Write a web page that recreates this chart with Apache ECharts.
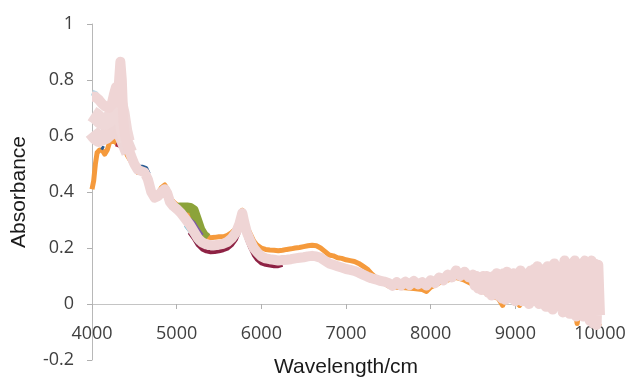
<!DOCTYPE html>
<html>
<head>
<meta charset="utf-8">
<title>Absorbance</title>
<script src="https://cdn.jsdelivr.net/npm/echarts@6/dist/echarts.min.js"></script>
<style>
    html, body { margin: 0; padding: 0; background: #fff; }
    #lineChart { width: 629px; height: 379px; }
</style>
</head>
<body>
<div id="lineChart"></div>
<script>
// x刻度
var xTicks = [4000, 5000, 6000, 7000, 8000, 9000, 10000];
var yTicks = [-0.2, 0, 0.2, 0.4, 0.6, 0.8, 1];

// 主谱线（粉色）
var mainSpectrum = [
    [4000, 0.74], [4040, 0.74], [4080, 0.73], [4120, 0.715], [4160, 0.705], [4200, 0.70], [4230, 0.71],
    [4260, 0.75], [4283, 0.775], [4300, 0.72], [4318, 0.79], [4335, 0.865], [4352, 0.80], [4370, 0.66],
    [4390, 0.60], [4420, 0.565], [4460, 0.53], [4500, 0.50], [4540, 0.48], [4580, 0.475], [4620, 0.47],
    [4660, 0.445], [4700, 0.40], [4740, 0.38], [4780, 0.385], [4820, 0.40], [4860, 0.41], [4890, 0.395],
    [4920, 0.365], [4960, 0.35], [5000, 0.34], [5050, 0.325], [5100, 0.305], [5150, 0.285], [5200, 0.26],
    [5250, 0.235], [5300, 0.22], [5350, 0.213], [5400, 0.21], [5450, 0.21], [5500, 0.212], [5550, 0.215],
    [5600, 0.222], [5650, 0.235], [5700, 0.255], [5740, 0.285], [5775, 0.325], [5800, 0.29], [5830, 0.255],
    [5870, 0.225], [5910, 0.20], [5950, 0.185], [6000, 0.17], [6050, 0.163], [6100, 0.16], [6150, 0.158],
    [6200, 0.155], [6250, 0.157], [6300, 0.158], [6350, 0.16], [6400, 0.163], [6450, 0.165], [6500, 0.167],
    [6550, 0.17], [6600, 0.172], [6650, 0.17], [6700, 0.165], [6750, 0.155], [6800, 0.145], [6850, 0.14],
    [6900, 0.135], [6950, 0.13], [7000, 0.125], [7050, 0.122], [7100, 0.118], [7150, 0.112], [7200, 0.105],
    [7250, 0.098], [7300, 0.092], [7350, 0.088], [7400, 0.083], [7450, 0.08], [7500, 0.075],
    [7550, 0.065], [7600, 0.078], [7650, 0.066], [7700, 0.08], [7750, 0.068], [7800, 0.082], [7850, 0.07],
    [7900, 0.078], [7950, 0.066], [8000, 0.085], [8050, 0.074], [8100, 0.095], [8150, 0.084], [8200, 0.105],
    [8250, 0.095], [8300, 0.12], [8350, 0.10], [8400, 0.115], [8450, 0.095], [8500, 0.105],
    [8520, 0.065], [8540, 0.10], [8560, 0.055], [8580, 0.095], [8600, 0.05], [8620, 0.10], [8640, 0.05],
    [8660, 0.10], [8680, 0.04], [8700, 0.095], [8720, 0.03], [8740, 0.10], [8760, 0.04], [8780, 0.11],
    [8800, 0.03], [8820, 0.095], [8840, 0.02], [8860, 0.11], [8880, 0.015], [8900, 0.115], [8920, 0.03],
    [8940, 0.10], [8960, 0.02], [8980, 0.11], [9000, 0.01], [9020, 0.10], [9040, 0.03], [9060, 0.12],
    [9080, 0.01], [9100, 0.11], [9120, 0.02], [9140, 0.10], [9160, 0.0], [9180, 0.12], [9200, 0.01],
    [9220, 0.125], [9240, 0.02], [9260, 0.135], [9280, 0.0], [9300, 0.11], [9320, 0.01], [9340, 0.125],
    [9360, -0.01], [9380, 0.135], [9400, 0.0], [9420, 0.12], [9440, -0.02], [9460, 0.145], [9480, 0.01],
    [9500, 0.135], [9520, -0.01], [9540, 0.13], [9560, -0.03], [9580, 0.155], [9600, 0.0], [9620, 0.145],
    [9640, -0.035], [9660, 0.14], [9680, -0.01], [9700, 0.155], [9720, -0.045], [9740, 0.145],
    [9760, -0.02], [9780, 0.14], [9800, -0.045], [9820, 0.155], [9840, -0.03], [9860, 0.145],
    [9880, -0.06], [9900, 0.155], [9920, -0.07], [9940, 0.145], [9960, -0.075], [9980, 0.14], [10000, -0.04]
];
// 左侧粉色填充
var pinkMid = [
    [4000, 0.68], [4050, 0.67], [4100, 0.655], [4150, 0.65], [4200, 0.66], [4250, 0.68], [4290, 0.70],
    [4320, 0.72], [4350, 0.68], [4380, 0.62], [4410, 0.58]
];
var pinkLow = [
    [4000, 0.615], [4040, 0.60], [4080, 0.59], [4120, 0.595], [4160, 0.60], [4200, 0.61], [4240, 0.62],
    [4280, 0.63], [4320, 0.62], [4360, 0.60], [4400, 0.57], [4440, 0.54]
];
var orange = [
    [4000, 0.41], [4020, 0.44], [4040, 0.50], [4060, 0.54], [4090, 0.55], [4120, 0.55], [4150, 0.535],
    [4180, 0.55], [4210, 0.58], [4250, 0.585], [4290, 0.575], [4330, 0.57], [4360, 0.56], [4390, 0.55],
    [4420, 0.53], [4460, 0.51], [4500, 0.49], [4540, 0.47], [4580, 0.47], [4620, 0.465], [4660, 0.44],
    [4700, 0.405], [4740, 0.385], [4780, 0.395], [4820, 0.415], [4860, 0.425], [4890, 0.41], [4920, 0.38],
    [4960, 0.365], [5000, 0.355], [5050, 0.345], [5100, 0.33], [5150, 0.31], [5200, 0.29], [5250, 0.265],
    [5300, 0.25], [5350, 0.24], [5400, 0.237], [5450, 0.238], [5500, 0.24], [5550, 0.24], [5600, 0.245],
    [5650, 0.255], [5700, 0.27], [5740, 0.295], [5775, 0.335], [5800, 0.305], [5830, 0.275], [5870, 0.25],
    [5910, 0.225], [5950, 0.21], [6000, 0.20], [6050, 0.195], [6100, 0.193], [6150, 0.192], [6200, 0.19],
    [6250, 0.192], [6300, 0.195], [6350, 0.197], [6400, 0.20], [6450, 0.202], [6500, 0.205], [6550, 0.208],
    [6600, 0.21], [6650, 0.208], [6700, 0.20], [6750, 0.188], [6800, 0.175], [6850, 0.172], [6900, 0.165],
    [6950, 0.163], [7000, 0.158], [7050, 0.155], [7100, 0.152], [7150, 0.145], [7200, 0.135], [7250, 0.125],
    [7300, 0.108], [7350, 0.095], [7400, 0.085], [7450, 0.075], [7500, 0.065], [7600, 0.06], [7700, 0.058],
    [7800, 0.055], [7900, 0.052], [7950, 0.045], [8000, 0.06], [8100, 0.075], [8200, 0.085], [8300, 0.095],
    [8400, 0.085], [8500, 0.07], [8600, 0.05], [8700, 0.03], [8800, 0.02], [8850, -0.005], [8900, 0.03],
    [9000, 0.01], [9050, -0.005], [9100, 0.03], [9200, 0.0], [9300, 0.02], [9400, 0.01], [9450, -0.02],
    [9500, 0.02], [9550, 0.0], [9600, 0.01], [9650, -0.04], [9700, -0.01], [9730, -0.07], [9760, 0.0],
    [9800, 0.02], [9850, 0.0], [9900, -0.05], [9950, -0.06], [10000, -0.08]
];
var green = [
    [5000, 0.335], [5040, 0.345], [5080, 0.345], [5120, 0.345], [5160, 0.343], [5200, 0.335], [5240, 0.30],
    [5280, 0.265], [5320, 0.245], [5360, 0.235]
];
var purple = [
    [5020, 0.325], [5080, 0.315], [5140, 0.305], [5200, 0.29], [5250, 0.265], [5300, 0.245]
];
var darkRed = [
    [5150, 0.255], [5200, 0.235], [5250, 0.21], [5300, 0.195], [5350, 0.188], [5400, 0.185], [5450, 0.186],
    [5500, 0.188], [5550, 0.192], [5600, 0.198], [5650, 0.21], [5700, 0.23], [5740, 0.26], [5775, 0.30],
    [5800, 0.265], [5830, 0.23], [5870, 0.20], [5910, 0.175], [5950, 0.158], [6000, 0.145], [6050, 0.14],
    [6100, 0.137], [6150, 0.135], [6200, 0.135], [6250, 0.14]
];
var darkRedLeft = [[4280, 0.57], [4330, 0.565]];
var cyan = [[5100, 0.28], [5150, 0.26], [5200, 0.238], [5250, 0.215]];
var lightBlue = [
    [4000, 0.755], [4040, 0.75], [4080, 0.735], [4120, 0.72], [4160, 0.71], [4200, 0.705], [4240, 0.72],
    [4280, 0.765]
];
var darkBlue = [[4520, 0.485], [4560, 0.49], [4600, 0.49], [4640, 0.485], [4670, 0.465]];
var darkBlueLeft = [[4110, 0.56], [4140, 0.555]];

(function () {
    var dom = document.getElementById("lineChart");
    var myChart = echarts.init(dom);

    function line(data, color, width) {
        return {
            type: 'line',
            data: data,
            showSymbol: false,
            smooth: false,
            lineStyle: { color: color, width: width, join: 'round', cap: 'butt' }
        };
    }

    var option = {
        animation: false,
        backgroundColor: '#ffffff',
        grid: {
            left: 92,
            right: 29,
            top: 24,
            bottom: 19,
            outerBounds: { left: -300, right: -300, top: -300, bottom: -300 }
        },
        xAxis: {
            type: 'value',
            min: xTicks[0],
            max: xTicks[xTicks.length - 1],
            interval: 1000,
            name: 'Wavelength/cm',
            nameLocation: 'middle',
            nameGap: -3,
            nameTextStyle: { color: '#1a1a1a', fontSize: 21, fontFamily: 'Liberation Sans', verticalAlign: 'top' },
            axisLine: { onZero: true, lineStyle: { color: '#c4c4c4' } },
            axisTick: { show: true, length: 5, lineStyle: { color: '#b0b0b0' } },
            axisLabel: {
                color: '#404040', fontSize: 18, fontFamily: 'Open Sans', margin: -35,
                verticalAlign: 'top',
                formatter: function (v) { return String(v); }
            },
            splitLine: { show: false }
        },
        yAxis: {
            type: 'value',
            min: yTicks[0],
            max: yTicks[yTicks.length - 1],
            interval: 0.2,
            name: 'Absorbance',
            nameLocation: 'middle',
            nameGap: 62,
            nameTextStyle: { color: '#1a1a1a', fontSize: 21, fontFamily: 'Liberation Sans' },
            axisLine: { show: true, lineStyle: { color: '#b8b8b8' } },
            axisTick: { show: true, length: 5, lineStyle: { color: '#b0b0b0' } },
            axisLabel: {
                color: '#404040', fontSize: 18, fontFamily: 'Open Sans', margin: 18,
                formatter: function (v) { return String(Math.round(v * 10) / 10); }
            },
            splitLine: { show: false }
        },
        series: [
            line(orange, '#f59a3c', 5),
            line(green, '#8ca33a', 10),
            line(purple, '#7d5aa6', 4),
            line(darkRed, '#8e2244', 4),
            line(darkRedLeft, '#a8253a', 4),
            line(cyan, '#6fc0d8', 3),
            line(lightBlue, '#bcd8e6', 6),
            line(darkBlue, '#2a5d95', 4),
            line(darkBlueLeft, '#2a5d95', 4),
            line(pinkLow, '#eed6d6', 16),
            line(pinkMid, '#efd8d8', 16),
            line(mainSpectrum, '#efd5d5', 10)
        ]
    };

    if (option && typeof option === 'object') {
        myChart.setOption(option);
    }

    window.addEventListener("resize", function () {
        myChart.resize();
    });
})();
</script>
</body>
</html>
